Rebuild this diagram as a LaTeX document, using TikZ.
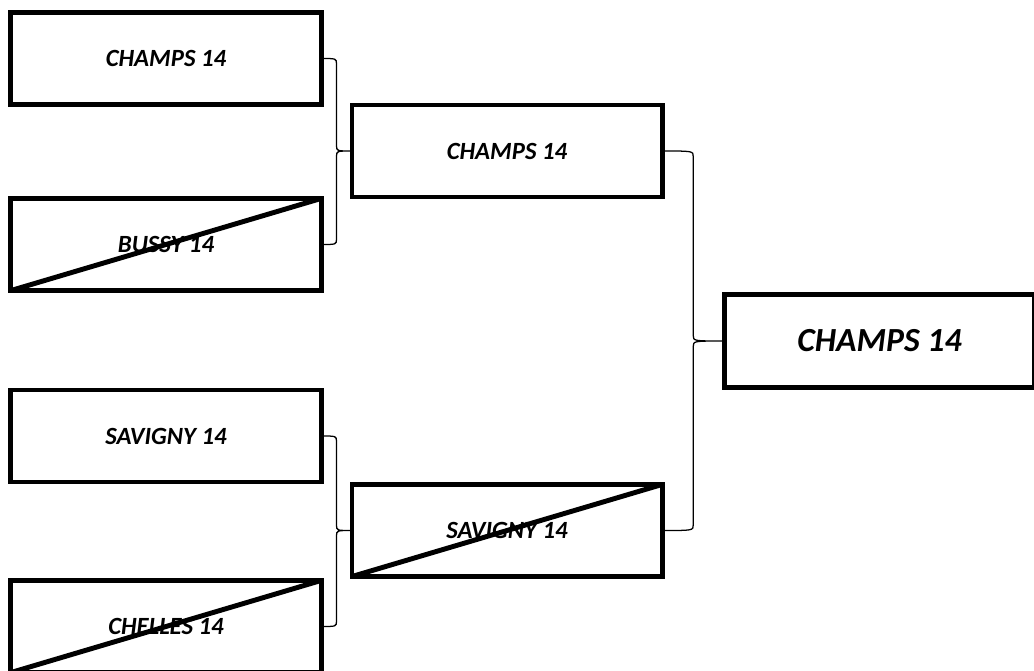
\documentclass[tikz,border=0pt]{standalone}
\usepackage{fontspec}
\setmainfont{Carlito}
\usepackage{tikz}
\usetikzlibrary{calc}
\newcommand{\joinpair}[3]{%
  \draw[link] let \p1=(#1.east), \p2=(#2.east), \p3=(#3.west), \n1={0.5*(\x1+\x3)} in
    (\p1) .. controls (\n1,\y1) .. (\n1,\y1-4pt) -- (\n1,\y3+4pt)
    .. controls (\n1,\y3) .. (\p3) .. controls (\n1,\y3) .. (\n1,\y3-4pt)
    -- (\n1,\y2+4pt) .. controls (\n1,\y2) .. (\p2);}

\begin{document}
\begin{tikzpicture}[x=0.025cm, y=-0.025cm, font=\bfseries\itshape\fontsize{17.6}{21}\selectfont,
  team/.style={draw, line width=3.5pt, minimum width=7.75cm, minimum height=2.3cm, outer sep=0pt, inner sep=0pt},
  final/.style={team, minimum height=2.33cm, font=\bfseries\itshape\fontsize{24}{28}\selectfont},
  strike/.style={line width=3.5pt},
  link/.style={line width=0.9pt}]
\useasboundingbox (0,0) rectangle (1034,671);
%% first round
\node[team] (t1) at (166,58.5) {CHAMPS 14};
\node[team] (t2) at (166,244.5) {BUSSY 14};
\node[team] (t3) at (166,436) {SAVIGNY 14};
\node[team] (t4) at (166,626.5) {CHELLES 14};
%% second round
\node[team] (s1) at (507,151) {CHAMPS 14};
\node[team] (s2) at (507,530.5) {SAVIGNY 14};
%% winner
\node[final] (w) at (879.5,341) {CHAMPS 14};
%% losers
\draw[strike] (t2.south west) -- (t2.north east);
\draw[strike] (t4.south west) -- (t4.north east);
\draw[strike] (s2.south west) -- (s2.north east);
%% brackets
\joinpair{t1}{t2}{s1}
\joinpair{t3}{t4}{s2}
\joinpair{s1}{s2}{w}
\end{tikzpicture}
\end{document}
